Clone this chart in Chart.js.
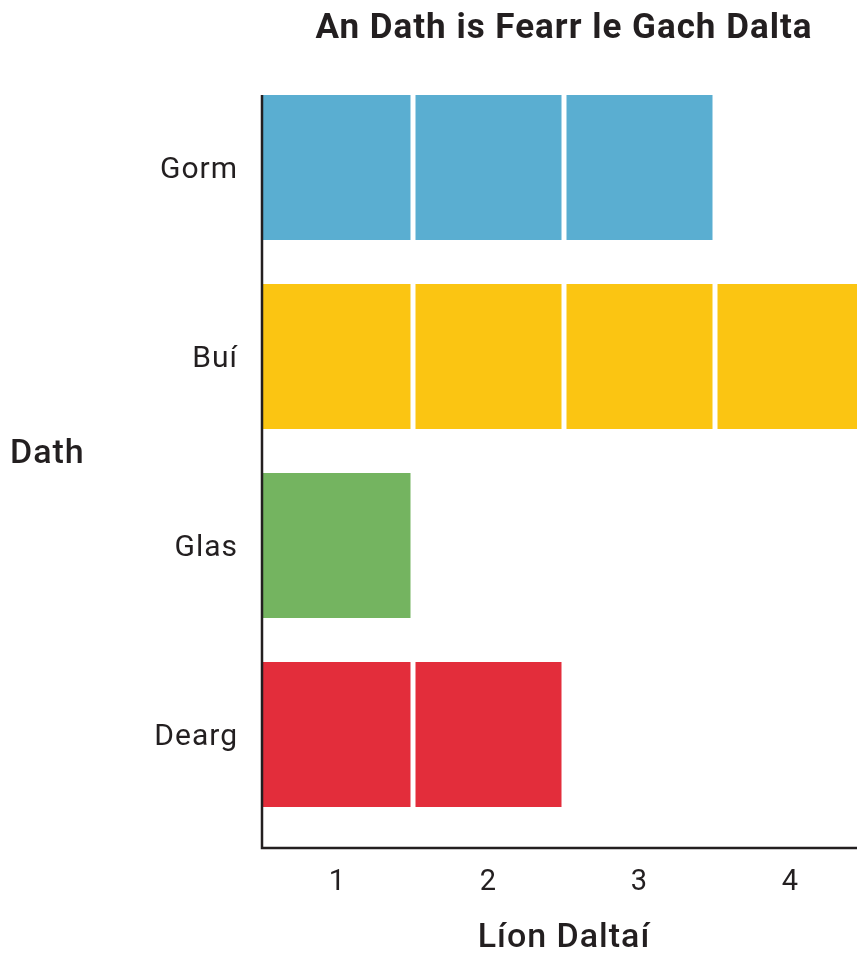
<!DOCTYPE html>
<html>
<head>
<meta charset="utf-8">
<script src="https://cdn.jsdelivr.net/npm/chart.js@4"></script>
<style>
  html, body { margin: 0; padding: 0; background: #fff; overflow: hidden; }
  #wrap { width: 866px; height: 959px; }
</style>
</head>
<body>
<div id="wrap"><canvas id="chart1"></canvas></div>
<script>
// An Dath is Fearr le Gach Dalta
const categories = ['Gorm', 'Buí', 'Glas', 'Dearg'];
const counts = [3, 4, 1, 2];
const barColors = ['#5aaed1', '#fbc512', '#74b460', '#e32d3b'];
const xTickLabels = [1, 2, 3, 4];

const inkColor = '#231f20';
const fontFamily = 'Roboto, "DejaVu Sans", sans-serif';

// one dataset per unit so every bar is split into blocks
const datasets = [];
for (let k = 1; k <= Math.max(...counts); k++) {
    datasets.push({
        label: 'Dalta ' + k,
        data: counts.map(c => (c >= k ? 1 : null)),
        backgroundColor: barColors,
        borderColor: '#ffffff',
        borderWidth: { left: k === 1 ? 0 : 2.5, right: 2.5, top: 0, bottom: 0 },
        borderSkipped: false,
        barPercentage: 0.767,
        categoryPercentage: 1,
    });
}

// axis lines and the flat "Dath" label
const axisPlugin = {
    id: 'axisLines',
    beforeDraw(chart) {
        // wider letters like the original typeface
        chart.ctx.letterSpacing = '1px';
    },
    afterDraw(chart) {
        const { ctx, chartArea } = chart;
        const first = chart.getDatasetMeta(0).data[0];
        const top = first.y - first.height / 2;
        const bottom = chartArea.bottom + 19;
        ctx.save();
        ctx.strokeStyle = inkColor;
        ctx.lineWidth = 2.5;
        ctx.beginPath();
        ctx.moveTo(chartArea.left, top);
        ctx.lineTo(chartArea.left, bottom);
        ctx.lineTo(chartArea.right, bottom);
        ctx.stroke();

        ctx.fillStyle = inkColor;
        ctx.font = '500 34px ' + fontFamily;
        ctx.textAlign = 'left';
        ctx.textBaseline = 'middle';
        ctx.fillText('Dath', 10, (chartArea.top + chartArea.bottom) / 2 + 3);
        ctx.restore();
    }
};

const ctx = document.getElementById('chart1').getContext('2d');
const chart1 = new Chart(ctx, {
    type: 'bar',
    data: {
        labels: categories,
        datasets: datasets,
    },
    plugins: [axisPlugin],
    options: {
        indexAxis: 'y',
        responsive: true,
        maintainAspectRatio: false,
        animation: false,
        plugins: {
            legend: { display: false },
            tooltip: { enabled: false },
            title: {
                display: true,
                text: 'An Dath is Fearr le Gach Dalta',
                fullSize: false,
                color: inkColor,
                font: { family: fontFamily, size: 35, weight: 'bold' },
                padding: { top: 8, bottom: 23 }
            }
        },
        scales: {
            x: {
                type: 'linear',
                stacked: true,
                min: 0,
                max: 4,
                grid: { display: false, drawTicks: false },
                border: { display: false },
                afterBuildTicks: function (scale) {
                    scale.ticks = xTickLabels.map(v => ({ value: v - 0.5 }));
                },
                afterFit: function (scale) {
                    scale.height = 130;
                },
                ticks: {
                    color: inkColor,
                    padding: 36,
                    font: { family: fontFamily, size: 29 },
                    callback: function (value) {
                        return value + 0.5;
                    }
                },
                title: {
                    display: true,
                    text: 'Líon Daltaí',
                    color: inkColor,
                    font: { family: fontFamily, size: 34, weight: '500' },
                    padding: { top: 0, bottom: 0 }
                }
            },
            y: {
                stacked: true,
                grid: { display: false, drawTicks: false },
                border: { display: false },
                afterFit: function (scale) {
                    scale.width = 262;
                },
                ticks: {
                    color: inkColor,
                    padding: 24,
                    labelOffset: 3,
                    font: { family: fontFamily, size: 30 }
                }
            }
        }
    }
});
</script>
</body>
</html>
